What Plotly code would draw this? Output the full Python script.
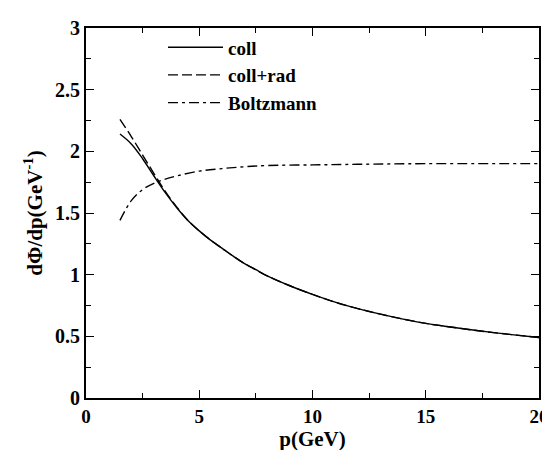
import plotly.graph_objects as go

p_coll = [1.5, 2, 2.5, 3, 3.5, 4, 4.5, 5, 5.5, 6, 6.5, 7, 7.5, 8, 9, 10, 11, 12, 13, 14, 15, 16, 17, 18, 19, 20]
coll = [2.14, 2.06, 1.94, 1.80, 1.665, 1.545, 1.44, 1.355, 1.28, 1.215, 1.15, 1.09, 1.04, 0.99, 0.91, 0.84,
        0.777, 0.725, 0.68, 0.64, 0.605, 0.578, 0.553, 0.53, 0.51, 0.49]
coll_rad = [2.26, 2.12, 1.97, 1.82, 1.675, 1.55, 1.44, 1.355, 1.28, 1.215, 1.15, 1.09, 1.04, 0.99, 0.91, 0.84,
            0.777, 0.725, 0.68, 0.64, 0.605, 0.578, 0.553, 0.53, 0.51, 0.49]
p_boltz = [1.5, 2, 2.5, 3, 3.5, 4, 5, 6, 7, 8, 10, 12, 15, 20]
boltz = [1.44, 1.60, 1.69, 1.74, 1.775, 1.80, 1.84, 1.86, 1.875, 1.885, 1.89, 1.895, 1.90, 1.90]

x_ticks = [0, 5, 10, 15, 20]
y_ticks = [0, 0.5, 1, 1.5, 2, 2.5, 3]
y_labels = ["0", "0.5", "1", "1.5", "2", "2.5", "3"]

FONT = "Liberation Serif"
fig = go.Figure()
fig.add_trace(go.Scatter(x=p_coll, y=coll, mode="lines", name="coll",
                         line=dict(color="black", width=1.4, dash="solid", shape="spline", smoothing=1)))
fig.add_trace(go.Scatter(x=p_coll, y=coll_rad, mode="lines", name="coll+rad",
                         line=dict(color="black", width=1.4, dash="10px,4px", shape="spline", smoothing=1)))
fig.add_trace(go.Scatter(x=p_boltz, y=boltz, mode="lines", name="Boltzmann",
                         line=dict(color="black", width=1.4, dash="10px,4px,3px,4px", shape="spline", smoothing=1)))

axis_common = dict(
    showgrid=False, zeroline=False, showline=True, linecolor="black", linewidth=2,
    mirror="allticks", ticks="inside", ticklen=8, tickwidth=1.2, tickcolor="black",
)
fig.update_xaxes(range=[0, 20], tickvals=x_ticks, ticktext=[f"<b>{v}</b>" for v in x_ticks],
                 tickfont=dict(family=FONT, size=19, color="black"),
                 minor=dict(dtick=2.5, ticks="inside", ticklen=5, tickcolor="black", tickwidth=1.2),
                 title=dict(text="<b>p(GeV)</b>", font=dict(family=FONT, size=21, color="black"), standoff=0),
                 **axis_common)
fig.update_yaxes(range=[0, 3], tickvals=y_ticks, ticktext=[f"<b>{t}</b>" for t in y_labels],
                 tickfont=dict(family=FONT, size=20, color="black"),
                 minor=dict(dtick=0.25, ticks="inside", ticklen=5, tickcolor="black", tickwidth=1.2),
                 title=dict(text="<b>dΦ/dp(GeV<sup>-1</sup>)</b>", font=dict(family=FONT, size=21, color="black"), standoff=7),
                 **axis_common)
fig.update_layout(
    width=550, height=450, plot_bgcolor="white", paper_bgcolor="white",
    margin=dict(l=78, r=9, t=12, b=60),
    showlegend=True,
    legend=dict(x=0.17, y=0.999, xanchor="left", yanchor="top", bgcolor="rgba(0,0,0,0)",
                font=dict(family=FONT, size=19, color="black"), itemwidth=55,
                tracegroupgap=0),
)
fig.for_each_trace(lambda t: t.update(name=f"<b>{t.name}</b>"))
fig.write_html("out.html")
